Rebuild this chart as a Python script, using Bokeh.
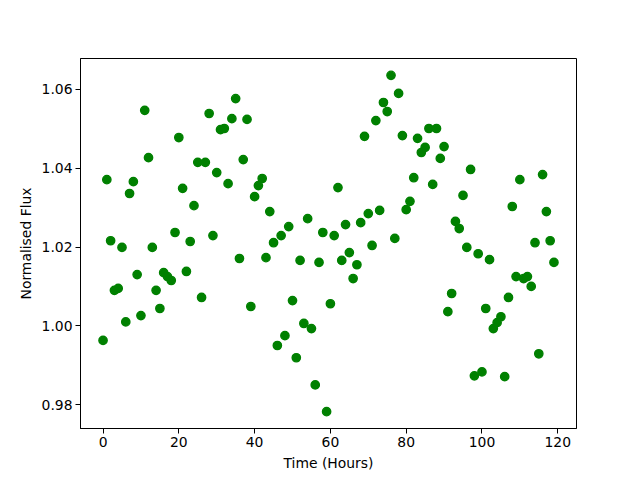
from bokeh.plotting import figure
from bokeh.models import Range1d, FixedTicker, NumeralTickFormatter
from bokeh.embed import file_html
from bokeh.resources import INLINE

time_hours = list(range(120))
flux = [
    0.9963, 1.0371, 1.0216, 1.0090, 1.0095, 1.0199, 1.0010, 1.0336, 1.0366, 1.0130,
    1.0026, 1.0547, 1.0427, 1.0199, 1.0090, 1.0044, 1.0135, 1.0125, 1.0115, 1.0237,
    1.0478, 1.0349, 1.0138, 1.0214, 1.0305, 1.0415, 1.0072, 1.0415, 1.0539, 1.0229,
    1.0389, 1.0498, 1.0501, 1.0361, 1.0526, 1.0577, 1.0171, 1.0422, 1.0524, 1.0049,
    1.0328, 1.0356, 1.0374, 1.0173, 1.0290, 1.0211, 0.9950, 1.0229, 0.9975, 1.0252,
    1.0064, 0.9919, 1.0166, 1.0006, 1.0272, 0.9993, 0.9850, 1.0161, 1.0237, 0.9782,
    1.0056, 1.0229, 1.0351, 1.0166, 1.0257, 1.0186, 1.0120, 1.0155, 1.0262, 1.0481,
    1.0285, 1.0204, 1.0521, 1.0293, 1.0567, 1.0544, 1.0636, 1.0222, 1.0590, 1.0483,
    1.0295, 1.0316, 1.0376, 1.0476, 1.0440, 1.0453, 1.0501, 1.0359, 1.0501, 1.0425,
    1.0455, 1.0036, 1.0082, 1.0265, 1.0247, 1.0331, 1.0199, 1.0397, 0.9873, 1.0183,
    0.9883, 1.0044, 1.0168, 0.9993, 1.0008, 1.0023, 0.9871, 1.0072, 1.0303, 1.0125,
    1.0371, 1.0120, 1.0125, 1.0100, 1.0211, 0.9929, 1.0384, 1.0290, 1.0216, 1.0161,
]
x_ticks = [0, 20, 40, 60, 80, 100, 120]
y_ticks = [0.98, 1.00, 1.02, 1.04, 1.06]

xpad = (max(time_hours) - min(time_hours)) * 0.05
ypad = (max(flux) - min(flux)) * 0.05

p = figure(
    frame_width=496, frame_height=370,
    min_border_left=80, min_border_top=58, min_border_right=56, min_border_bottom=44,
    output_backend="svg", toolbar_location=None,
    x_range=Range1d(min(time_hours) - xpad, max(time_hours) + xpad),
    y_range=Range1d(min(flux) - ypad, max(flux) + ypad),
)
p.scatter(time_hours, flux, size=8.3, fill_color="#008000", line_color="#008000", line_width=1.4)

p.xgrid.visible = False
p.ygrid.visible = False
p.outline_line_color = "black"
p.outline_line_width = 1
p.background_fill_color = "white"
p.border_fill_color = "white"

p.xaxis.ticker = FixedTicker(ticks=x_ticks)
p.yaxis.ticker = FixedTicker(ticks=y_ticks)
p.yaxis.formatter = NumeralTickFormatter(format="0.00")
p.xaxis.axis_label = "Time (Hours)"
p.yaxis.axis_label = "Normalised Flux"
for ax in (p.xaxis, p.yaxis):
    ax.axis_label_text_font = "DejaVu Sans"
    ax.axis_label_text_font_size = "13.9px"
    ax.axis_label_text_font_style = "normal"
    ax.axis_label_text_color = "black"
    ax.major_label_text_font = "DejaVu Sans"
    ax.major_label_text_font_size = "13.9px"
    ax.major_label_text_color = "black"
    ax.major_tick_out = 5
    ax.major_tick_in = 0
    ax.minor_tick_line_color = None
    ax.axis_line_color = "black"
    ax.major_tick_line_color = "black"
    ax.major_label_standoff = 3
    ax.axis_label_standoff = 5

open("out.html", "w").write(file_html(p, INLINE))
